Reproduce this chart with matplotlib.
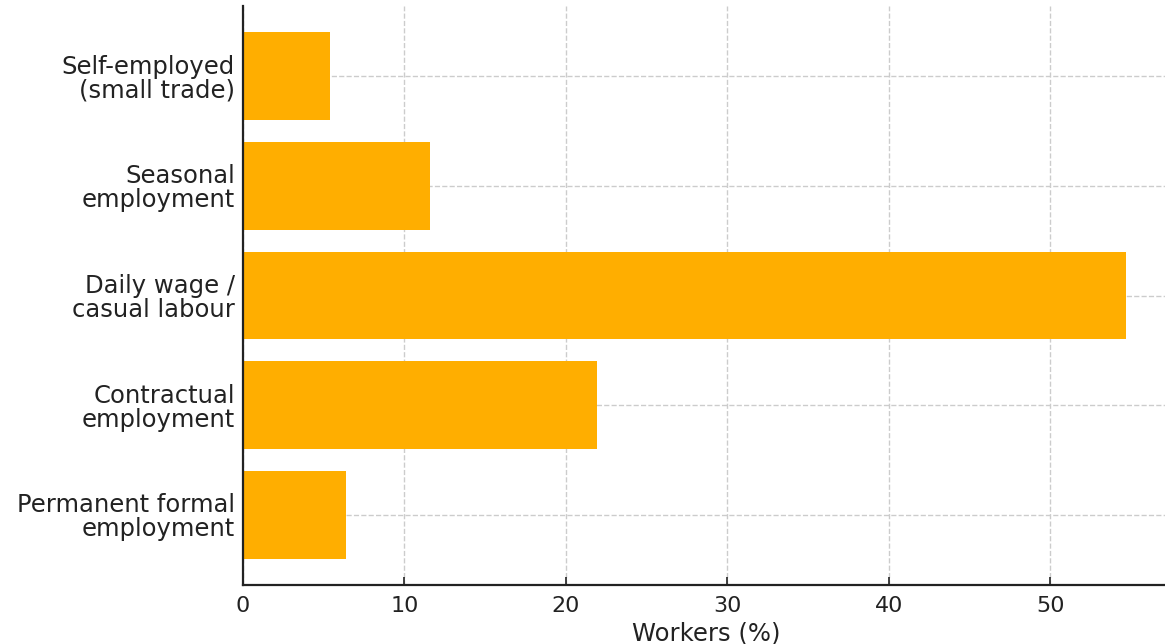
import matplotlib
matplotlib.use("Agg")
import matplotlib.pyplot as plt

categories = ["Permanent formal\nemployment", "Contractual\nemployment",
              "Daily wage /\ncasual labour", "Seasonal\nemployment",
              "Self-employed\n(small trade)"]
workers_pct = [6.4, 21.9, 54.7, 11.6, 5.4]
x_ticks = [0, 10, 20, 30, 40, 50]


def main():
    fig = plt.figure(figsize=(11.65, 6.44), dpi=100)
    ax = fig.add_axes([243 / 1165, 1 - 585 / 644, 927 / 1165, 579 / 644])

    ax.barh(categories, workers_pct, height=0.8, color="#FFAE00", zorder=2)
    ax.set_xticks(x_ticks)
    ax.set_xlim(0, 57.4)
    ax.grid(True, linestyle="--", color="#cccccc", linewidth=1, zorder=0)
    ax.set_axisbelow(True)
    for side in ["top", "right"]:
        ax.spines[side].set_visible(False)
    for side in ["left", "bottom"]:
        ax.spines[side].set_linewidth(1.6)
        ax.spines[side].set_color("#222222")
    ax.tick_params(direction="in", labelsize=16, colors="#222222", width=1.2, length=6, pad=8)
    ax.tick_params(axis="y", pad=6)
    for lab in ax.get_yticklabels():
        lab.set_fontsize(17.5)
        lab.set_linespacing(1.0)
    ax.set_xlabel("Workers (%)", fontsize=17.5, color="#222222", labelpad=4)

    fig.savefig("out.png", dpi=100)


if __name__ == '__main__':
    main()
